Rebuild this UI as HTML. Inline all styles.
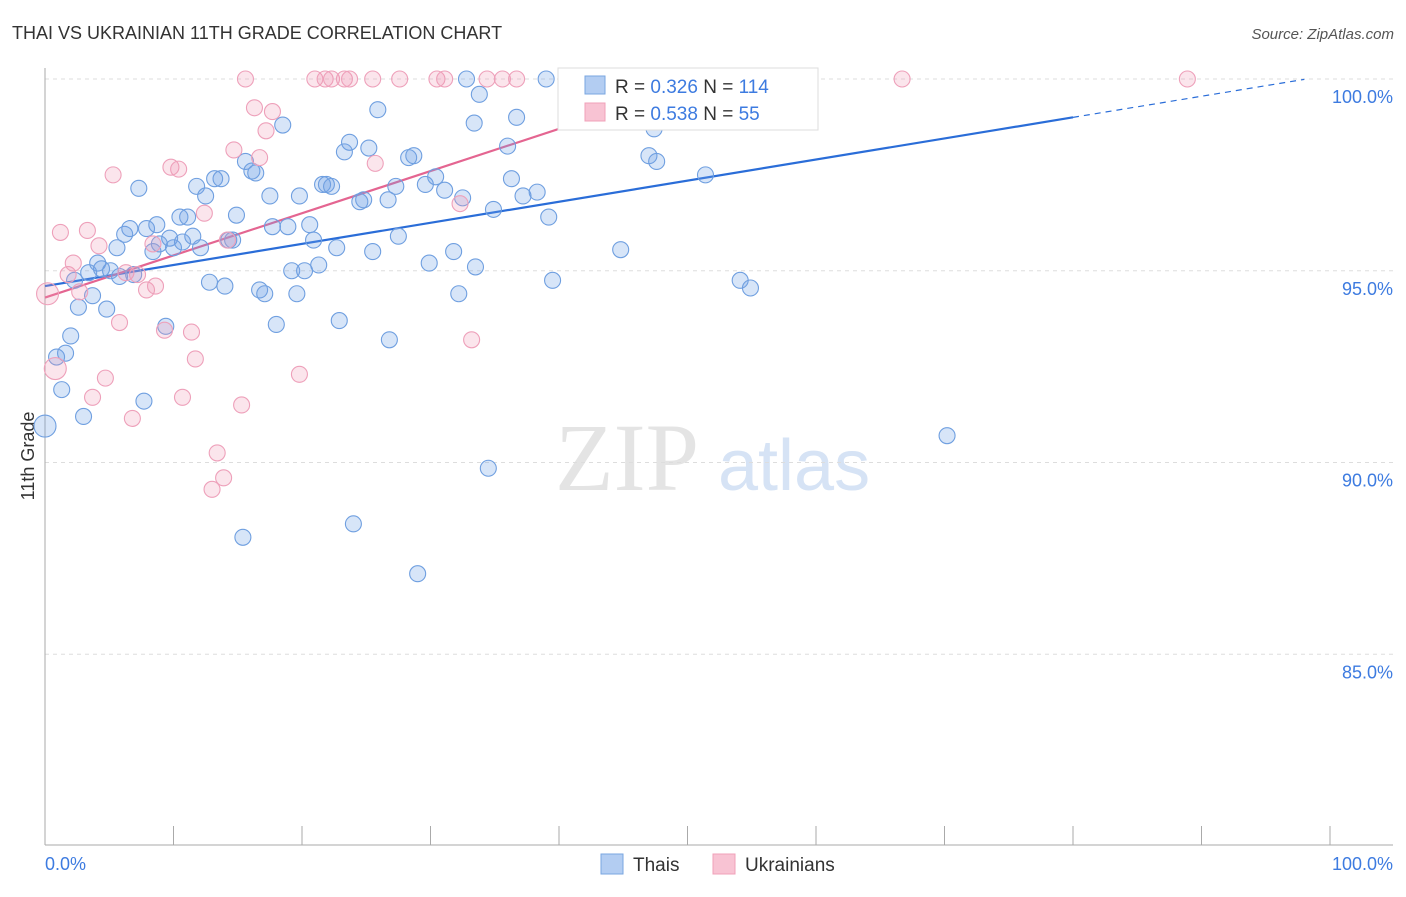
<!DOCTYPE html>
<html><head><meta charset="utf-8"><style>
body{margin:0;background:#fff;font-family:"Liberation Sans",sans-serif}
</style></head><body>
<svg id="chart" width="1406" height="892" xmlns="http://www.w3.org/2000/svg" font-family="Liberation Sans, sans-serif">
<text x="12" y="39" font-size="18" fill="#333">THAI VS UKRAINIAN 11TH GRADE CORRELATION CHART</text>
<text x="1394" y="39" font-size="15" fill="#555" font-style="italic" text-anchor="end">Source: ZipAtlas.com</text>
<text x="34" y="456" font-size="18" fill="#333" transform="rotate(-90 34 456)" text-anchor="middle">11th Grade</text>
<g><text x="555" y="490" font-size="96" fill="#e4e4e4" font-family="Liberation Serif, serif">ZIP</text><text x="718" y="490" font-size="72" fill="#d6e3f5">atlas</text></g>
<g id="grid"></g><g id="axes"></g><g id="trends"></g><g id="pts"></g>
<g>
<rect x="558" y="68" width="260" height="62" fill="#fff" stroke="#ddd"/>
<rect x="585" y="76" width="20" height="18" fill="#b3cdf2" stroke="#7aa6e0"/>
<rect x="585" y="103" width="20" height="18" fill="#f8c3d3" stroke="#f0a0b8"/>
<text x="615" y="93" font-size="19" fill="#333">R = <tspan fill="#3d7be0">0.326</tspan>   N = <tspan fill="#3d7be0">114</tspan></text>
<text x="615" y="120" font-size="19" fill="#333">R = <tspan fill="#3d7be0">0.538</tspan>   N = <tspan fill="#3d7be0"> 55</tspan></text>
</g>
<g>
<rect x="601" y="854" width="22" height="20" fill="#b3cdf2" stroke="#7aa6e0"/>
<text x="633" y="871" font-size="19" fill="#333">Thais</text>
<rect x="713" y="854" width="22" height="20" fill="#f8c3d3" stroke="#f0a0b8"/>
<text x="745" y="871" font-size="19" fill="#333">Ukrainians</text>
</g>
<text x="45" y="870" font-size="18" fill="#3d7be0">0.0%</text>
<text x="1393" y="870" font-size="18" fill="#3d7be0" text-anchor="end">100.0%</text>
</svg>
<script>
const thaiX=[0,0.9,1.3,1.6,2.0,3.0,2.6,2.3,3.4,3.7,4.1,4.4,4.8,5.1,5.6,5.8,6.2,6.6,6.9,7.3,7.7,7.9,8.4,8.7,8.9,9.4,9.7,10.0,10.5,10.7,11.1,11.5,11.8,12.1,12.5,12.8,13.2,13.7,14.0,14.3,14.6,14.9,15.4,15.6,16.1,16.4,16.7,17.1,17.5,17.7,18.0,18.5,18.9,19.2,19.6,19.8,20.2,20.6,20.9,21.3,21.6,21.9,22.3,22.7,22.9,23.3,23.7,24.0,24.5,24.8,25.2,25.5,25.9,26.7,26.8,27.3,27.5,28.3,28.7,29.0,29.6,29.9,30.4,31.1,31.8,32.2,32.5,32.8,33.4,33.5,33.8,34.5,34.9,36.0,36.3,36.7,37.2,38.3,39.0,39.2,39.5,41.5,44.8,47.0,47.4,47.6,51.4,54.1,54.9,70.2];
const thaiY=[90.95,92.75,91.9,92.85,93.3,91.2,94.05,94.75,94.95,94.35,95.2,95.05,94.0,95.0,95.6,94.85,95.95,96.1,94.9,97.15,91.6,96.1,95.5,96.2,95.7,93.55,95.85,95.6,96.4,95.75,96.4,95.9,97.2,95.6,96.95,94.7,97.4,97.4,94.6,95.8,95.8,96.45,88.05,97.85,97.6,97.55,94.5,94.4,96.95,96.15,93.6,98.8,96.15,95.0,94.4,96.95,95.0,96.2,95.8,95.15,97.25,97.25,97.2,95.6,93.7,98.1,98.35,88.4,96.8,96.85,98.2,95.5,99.2,96.85,93.2,97.2,95.9,97.95,98.0,87.1,97.25,95.2,97.45,97.1,95.5,94.4,96.9,100,98.85,95.1,99.6,89.85,96.6,98.25,97.4,99.0,96.95,97.05,100,96.4,94.75,100,95.55,98.0,98.7,97.85,97.5,94.75,94.55,90.7];
const ukrX=[0.2,0.8,1.2,1.8,2.2,2.7,3.3,3.7,4.2,4.7,5.3,5.8,6.3,6.8,7.2,7.9,8.4,8.6,9.3,9.8,10.4,10.7,11.4,11.7,12.4,13.0,13.4,13.9,14.2,14.7,15.3,15.6,16.3,16.7,17.2,17.7,19.8,21.0,21.8,22.3,23.3,23.7,25.5,25.7,27.6,30.5,31.1,32.3,33.2,34.4,35.6,36.7,66.7,88.9];
const ukrY=[94.4,92.45,96.0,94.9,95.2,94.45,96.05,91.7,95.65,92.2,97.5,93.65,94.95,91.15,94.9,94.5,95.7,94.6,93.45,97.7,97.65,91.7,93.4,92.7,96.5,89.3,90.25,89.6,95.8,98.15,91.5,100,99.25,97.95,98.65,99.15,92.3,100,100,100,100,100,100,97.8,100,100,100,96.75,93.2,100,100,100,100,100];
const thaiTrend=[94.6,0.055];
const ukrTrend=[94.3,0.110];
const yTicks=[100,95,90,85];
const xTicks=[0,10,20,30,40,50,60,70,80,90,100];
const NS="http://www.w3.org/2000/svg";
const sx=v=>45+v*12.85, sy=v=>79+(100-v)*38.35;
function mk(tag,attrs,parent){const e=document.createElementNS(NS,tag);for(const k in attrs)e.setAttribute(k,attrs[k]);parent.appendChild(e);return e;}
const grid=document.getElementById('grid'),axes=document.getElementById('axes'),tr=document.getElementById('trends'),pts=document.getElementById('pts');
yTicks.forEach(t=>{
 const l=mk('line',{x1:45,x2:1393,y1:sy(t),y2:sy(t),stroke:'#ddd','stroke-dasharray':'4,4'},grid);
 
 
 const tx=mk('text',{x:1393,y:sy(t)+24,'font-size':18,fill:'#3d7be0','text-anchor':'end'},grid);
 tx.textContent=t.toFixed(1)+'%';
 
 
});
let a=mk('line',{x1:45,x2:45,y1:68,y2:845,stroke:'#aaa'},axes);


a=mk('line',{x1:45,x2:1393,y1:845,y2:845,stroke:'#aaa'},axes);


xTicks.forEach(t=>{
 const l=mk('line',{x1:sx(t),x2:sx(t),y1:826,y2:845,stroke:'#aaa'},axes);
 
 
});
function trend(p,xEnd,xDash,color,name){
 let l=mk('line',{x1:sx(0),y1:sy(p[0]),x2:sx(xEnd),y2:sy(p[0]+p[1]*xEnd),stroke:color,'stroke-width':2.2},tr);
 
 
 l=mk('line',{x1:sx(xEnd),y1:sy(p[0]+p[1]*xEnd),x2:sx(xDash),y2:sy(p[0]+p[1]*xDash),stroke:color,'stroke-width':1.2,'stroke-dasharray':'6,5'},tr);
 
 
}
trend(thaiTrend,80,98,'#2a6dd8','thais-trend-line');
trend(ukrTrend,42,51.5,'#e46591','ukrainians-trend-line');
thaiX.forEach((x,i)=>{
 const c=mk('circle',{cx:sx(x),cy:sy(thaiY[i]),r:x<0.5?11:8,fill:'rgba(110,160,230,0.28)',stroke:'#6f9fe0','stroke-width':1.1},pts);
 
 
});
ukrX.forEach((x,i)=>{
 const c=mk('circle',{cx:sx(x),cy:sy(ukrY[i]),r:x<1?11:8,fill:'rgba(240,150,180,0.25)',stroke:'#eea0ba','stroke-width':1.1},pts);
 
 
});
</script>
</body></html>
